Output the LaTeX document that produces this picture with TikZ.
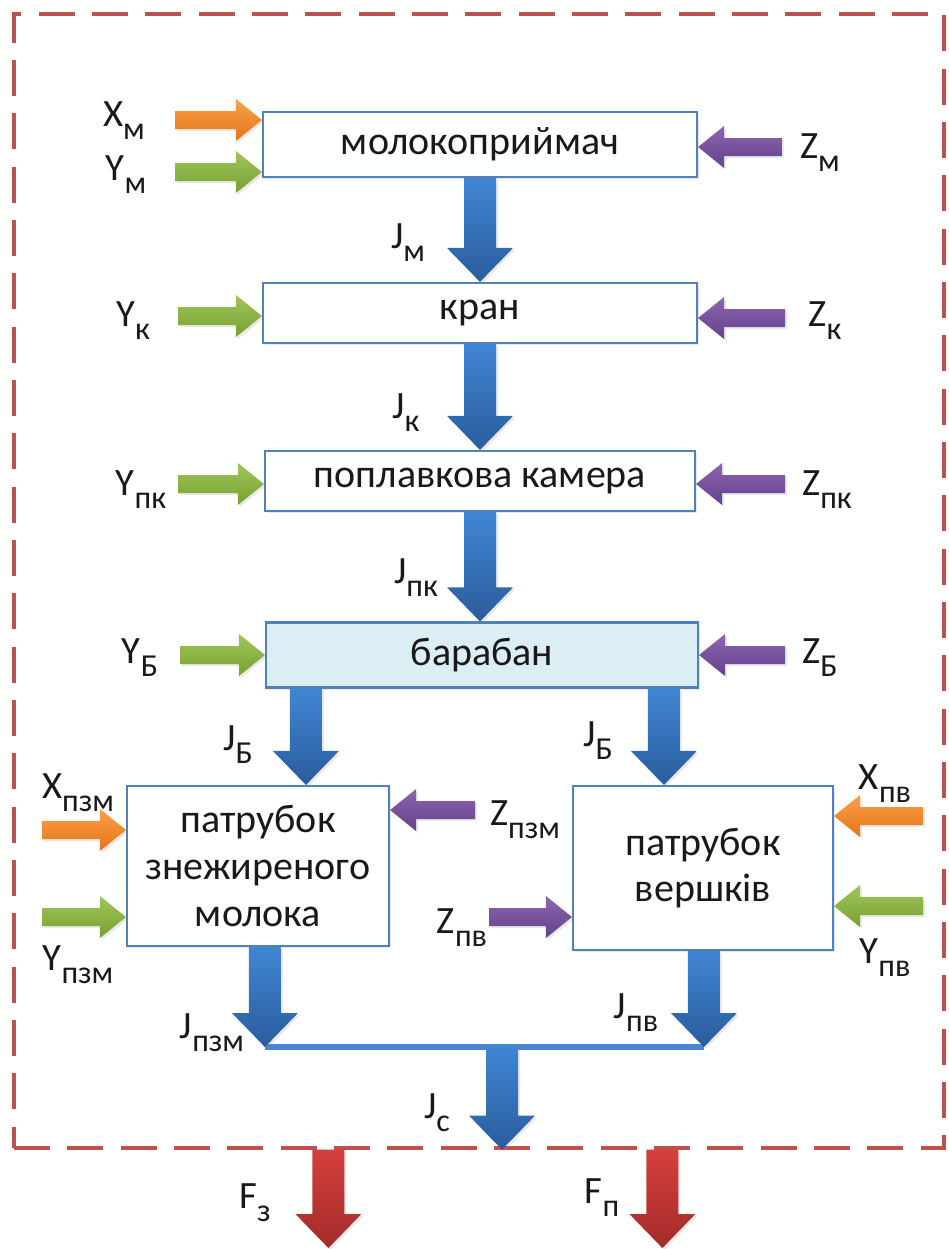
\documentclass[tikz,border=0pt]{standalone}
\usepackage{fontspec}
\setmainfont{Carlito}
\usetikzlibrary{calc,shadows}
\definecolor{boxblue}{HTML}{4F81BD}
\definecolor{bfill}{HTML}{DBEEF4}
\definecolor{flowtop}{HTML}{4086D4}
\definecolor{flowbot}{HTML}{2A5C9C}
\definecolor{mergeblue}{HTML}{4A86CF}
\definecolor{redtop}{HTML}{D43F3C}
\definecolor{redbot}{HTML}{A42B2A}
\definecolor{ortop}{HTML}{FBA04A}
\definecolor{orbot}{HTML}{E57418}
\definecolor{grtop}{HTML}{A0C65A}
\definecolor{grbot}{HTML}{76A030}
\definecolor{putop}{HTML}{8C66AE}
\definecolor{pubot}{HTML}{65418C}
\definecolor{dashred}{HTML}{C0504D}
\newcommand\sbs[1]{\raisebox{-0.34em}{\fontsize{24}{24}\selectfont #1}}
\tikzset{
 px/.style={x=0.75pt,y=-0.75pt},
 softshadow/.style={drop shadow={opacity=0.18, shadow xshift=1.5pt, shadow yshift=-1.5pt}},
 procbox/.style={draw=boxblue, line width=1.6pt, fill=white, inner sep=0pt, font=\fontsize{30}{35}\selectfont, text=black!90, align=center, softshadow},
 lab/.style={inner sep=0pt, font=\fontsize{29}{29}\selectfont, text=black!90},
 bluefl/.style={top color=flowtop,bottom color=flowbot,softshadow},
 redfl/.style={top color=redtop,bottom color=redbot,softshadow},
 orfl/.style={top color=ortop,bottom color=orbot,softshadow},
 grfl/.style={top color=grtop,bottom color=grbot,softshadow},
 pufl/.style={top color=putop,bottom color=pubot,softshadow},
 sysbox/.style={draw=dashred, line width=2.4pt, dash pattern=on 27pt off 13pt, inner sep=0pt},
 mergebar/.style={draw=mergeblue, line width=5pt},
}
% vertical flow: [style]{start}{target}
\newcommand\downflow[3][bluefl]{%
 \coordinate (tipA) at (#2 |- #3);
 \shade[#1] ([xshift=-12pt]#2) -- ([xshift=12pt]#2) -- ([xshift=12pt,yshift=25.5pt]tipA) -- ([xshift=24.75pt,yshift=25.5pt]tipA) -- (tipA) -- ([xshift=-24.75pt,yshift=25.5pt]tipA) -- ([xshift=-12pt,yshift=25.5pt]tipA) -- cycle;}
\newcommand\rightflow[3]{%
 \coordinate (tipA) at (#2 -| #3);
 \shade[#1] ([yshift=6.75pt]#2) -- ([xshift=-19.5pt,yshift=6.75pt]tipA) -- ([xshift=-19.5pt,yshift=15.75pt]tipA) -- (tipA) -- ([xshift=-19.5pt,yshift=-15.75pt]tipA) -- ([xshift=-19.5pt,yshift=-6.75pt]tipA) -- ([yshift=-6.75pt]#2) -- cycle;}
\newcommand\leftflow[3]{%
 \coordinate (tipA) at (#2 -| #3);
 \shade[#1] ([yshift=6.75pt]#2) -- ([xshift=19.5pt,yshift=6.75pt]tipA) -- ([xshift=19.5pt,yshift=15.75pt]tipA) -- (tipA) -- ([xshift=19.5pt,yshift=-15.75pt]tipA) -- ([xshift=19.5pt,yshift=-6.75pt]tipA) -- ([yshift=-6.75pt]#2) -- cycle;}
\begin{document}
\begin{tikzpicture}[px]
\useasboundingbox (0,0) rectangle (949,1249);
% system border
\node[sysbox, minimum width=697.5pt, minimum height=850.5pt] (sys) at (479,581) {};
% boxes
\node[procbox, minimum width=325.5pt, minimum height=48.75pt] (m1) at (480,144.5) {молокоприймач};
\node[procbox, minimum width=325.5pt, minimum height=45pt] (kr) at (480,313) {кран};
\node[procbox, minimum width=322.5pt, minimum height=45pt] (pk) at (480,481) {поплавкова камера};
\node[procbox, fill=bfill, minimum width=324pt, minimum height=48.75pt] (bar) at (482,655) {барабан};
\node[procbox, minimum width=196.5pt, minimum height=120pt] (pz) at (258,866) {патрубок\\знежиреного\\молока};
\node[procbox, minimum width=195pt, minimum height=123pt] (pv) at (703,868) {патрубок\\вершків};
% side inputs (free ends)
\coordinate (xm) at (175,120); \coordinate (ym) at (175,172); \coordinate (zm) at (782,147);
\coordinate (yk) at (178,316); \coordinate (zk) at (785,318);
\coordinate (ypk) at (178,484); \coordinate (zpk) at (785,484);
\coordinate (yb) at (180,655); \coordinate (zb) at (785,655);
\coordinate (xpz) at (42,830); \coordinate (ypz) at (42,917); \coordinate (zpz) at (475,810);
\coordinate (zpv) at (489,917); \coordinate (xpv) at (923,816); \coordinate (ypv) at (923,906);
\rightflow{orfl}{xm}{m1.west}
\rightflow{grfl}{ym}{m1.west}
\leftflow{pufl}{zm}{m1.east}
\rightflow{grfl}{yk}{kr.west}
\leftflow{pufl}{zk}{kr.east}
\rightflow{grfl}{ypk}{pk.west}
\leftflow{pufl}{zpk}{pk.east}
\rightflow{grfl}{yb}{bar.west}
\leftflow{pufl}{zb}{bar.east}
\rightflow{orfl}{xpz}{pz.west}
\rightflow{grfl}{ypz}{pz.west}
\leftflow{pufl}{zpz}{pz.east}
\rightflow{pufl}{zpv}{pv.west}
\leftflow{orfl}{xpv}{pv.east}
\leftflow{grfl}{ypv}{pv.east}
% main flows
\coordinate (s1) at (m1.south);
\coordinate (s2) at (kr.south);
\coordinate (s3) at (pk.south);
\downflow{s1}{kr.north}
\downflow{s2}{pk.north}
\downflow{s3}{bar.north}
\coordinate (bL) at ([xshift=30.75pt]bar.south west);
\coordinate (bR) at ([xshift=299.25pt]bar.south west);
\downflow{bL}{pz.north}
\downflow{bR}{pv.north}
\coordinate (pzo) at ([xshift=104.25pt]pz.south west);
\coordinate (pvo) at ([xshift=99pt]pv.south west);
\coordinate (mrg) at (502,1047);
\coordinate (mL) at (pzo |- mrg);
\coordinate (mR) at (pvo |- mrg);
\draw[mergebar] (mL) -- (mR);
\downflow{pzo}{mL}
\downflow{pvo}{mR}
\downflow{mrg}{sys.south}
\coordinate (fzs) at ([xshift=237pt]sys.south west);
\coordinate (fps) at ([xshift=487.5pt]sys.south west);
\coordinate (fze) at (330,1248);
\coordinate (fpe) at (664,1248);
\downflow[redfl]{fzs}{fze}
\downflow[redfl]{fps}{fpe}
% labels
\node[lab] (lxm) at (124,121) {X\sbs{м}};
\node[lab] (lym) at (126,175) {Y\sbs{м}};
\node[lab] (lzm) at (820,153) {Z\sbs{м}};
\node[lab] (lyk) at (133,321) {Y\sbs{к}};
\node[lab] (lzk) at (825,321) {Z\sbs{к}};
\node[lab] (lypk) at (141,490) {Y\sbs{пк}};
\node[lab] (lzpk) at (827,490) {Z\sbs{пк}};
\node[lab] (lyb) at (140,658) {Y\sbs{Б}};
\node[lab] (lzb) at (820,658) {Z\sbs{Б}};
\node[lab] (ljm) at (408,243) {J\sbs{м}};
\node[lab] (ljk) at (406,413) {J\sbs{к}};
\node[lab] (ljpk) at (416,578) {J\sbs{пк}};
\node[lab] (ljbl) at (238,745) {J\sbs{Б}};
\node[lab] (ljbr) at (598,741) {J\sbs{Б}};
\node[lab] (lxpz) at (78,793) {X\sbs{пзм}};
\node[lab] (lypz) at (78,965) {Y\sbs{пзм}};
\node[lab] (lzpz) at (525,820) {Z\sbs{пзм}};
\node[lab] (lzpv) at (462,928) {Z\sbs{пв}};
\node[lab] (lxpv) at (885,784) {X\sbs{пв}};
\node[lab] (lypv) at (885,958) {Y\sbs{пв}};
\node[lab] (ljpz) at (212,1033) {J\sbs{пзм}};
\node[lab] (ljpv) at (636,1013) {J\sbs{пв}};
\node[lab] (ljc) at (437,1113) {J\sbs{с}};
\node[lab] (lfz) at (255,1203) {F\sbs{з}};
\node[lab] (lfp) at (602,1198) {F\sbs{п}};
\end{tikzpicture}
\end{document}
